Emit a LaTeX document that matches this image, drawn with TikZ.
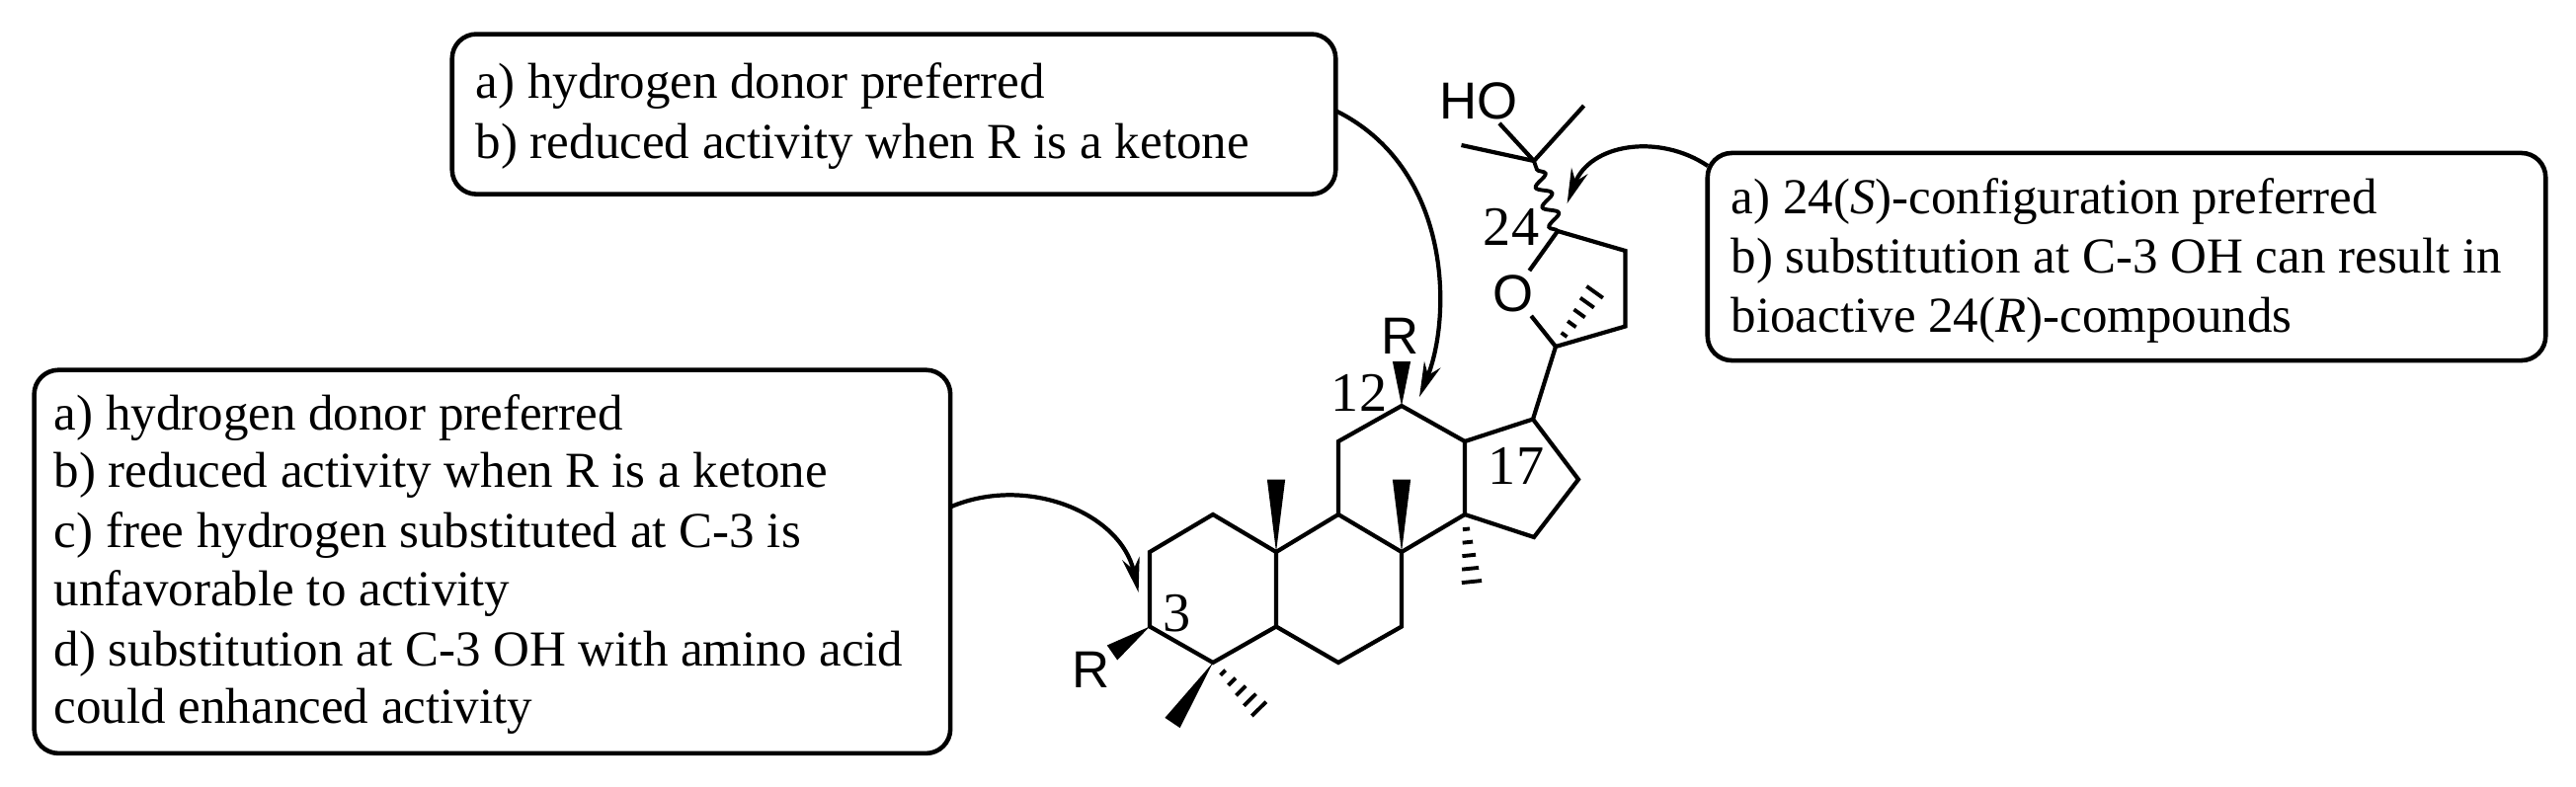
\documentclass[tikz,border=0pt]{standalone}
\usepackage{fontspec}
\setmainfont{Liberation Serif}
\newfontfamily\atomfont{Liberation Sans}
\usetikzlibrary{calc,arrows.meta,decorations.pathmorphing}
\begin{document}
\begin{tikzpicture}[x=0.01cm,y=-0.01cm,
  bond/.style={line width=1.2pt,line join=miter},
  boxst/.style={draw,line width=1.3pt,rounded corners=7pt,inner sep=0pt},
  txt/.style={anchor=base west,inner sep=0pt,font=\fontsize{14.5pt}{17pt}\selectfont},
  num/.style={inner sep=0pt,font=\fontsize{16pt}{17pt}\selectfont},
  atom/.style={inner sep=1pt,font=\atomfont\fontsize{15pt}{17pt}\selectfont},
  conn/.style={line width=1.2pt,-{Stealth[length=10pt,width=5pt]}}]
\useasboundingbox (0,0) rectangle (2608,797);
\newcommand\wedgebond[2]{\fill (#1) -- ($(#2)!2.6pt!90:(#1)$) -- ($(#2)!2.6pt!-90:(#1)$) -- cycle;}
\newcommand\hashbond[2]{\foreach \t in {0.2,0.38,0.56,0.74,0.92}{%
  \path (#1) -- (#2) coordinate[pos=\t] (hh);
  \pgfmathsetmacro\hl{0.5+2.6*\t}
  \draw[line width=1.1pt] ($(hh)!\hl pt!90:(#2)$) -- ($(hh)!\hl pt!-90:(#2)$);}}
% boxes
\node[boxst,minimum width=8.94cm,minimum height=1.62cm] (tbox) at (905,115.6) {};
\node[boxst,minimum width=9.27cm,minimum height=3.88cm] (lbox) at (498.4,568.8) {};
\node[boxst,minimum width=8.48cm,minimum height=2.10cm] (rbox) at (2153,260) {};
% texts
\node[txt] (t1) at (481,99) {a) hydrogen donor preferred};
\node[txt] (t2) at (481,160) {b) reduced activity when R is a ketone};
\node[txt] (l1) at (54,435) {a) hydrogen donor preferred};
\node[txt] (l2) at (54,493) {b) reduced activity when R is a ketone};
\node[txt] (l3) at (54,554) {c) free hydrogen substituted at C-3 is};
\node[txt] (l4) at (54,613) {unfavorable to activity};
\node[txt] (l5) at (54,674) {d) substitution at C-3 OH with amino acid};
\node[txt] (l6) at (54,732) {could enhanced activity};
\node[txt] (r1) at (1752,216.7) {a) 24(\textit{S})-configuration preferred};
\node[txt] (r2) at (1752,276.7) {b) substitution at C-3 OH can result in};
\node[txt] (r3) at (1752,336.7) {bioactive 24(\textit{R})-compounds};
% atoms
\coordinate (C1) at (1228,521); \coordinate (C2) at (1164,559);
\coordinate (C3) at (1164,634.5); \coordinate (C4) at (1228,671);
\coordinate (C5) at (1292,634.5); \coordinate (C10) at (1292,559);
\coordinate (C9) at (1355,521); \coordinate (C8) at (1419,559);
\coordinate (C7) at (1419,634.5); \coordinate (C6) at (1355,671);
\coordinate (C11) at (1355,447); \coordinate (C12) at (1419,411);
\coordinate (C13) at (1483,447); \coordinate (C14) at (1483,521);
\coordinate (C17) at (1552,424.5); \coordinate (C16) at (1598,485.5);
\coordinate (C15) at (1553,544); \coordinate (C20) at (1575,351);
\coordinate (C22) at (1645.5,330.5); \coordinate (C23) at (1645.5,254);
\coordinate (C24) at (1577,234); \coordinate (C25) at (1553,163);
\coordinate (M20) at (1618,291); \coordinate (M25a) at (1603.6,107);
\coordinate (M25b) at (1479.5,147);
\coordinate (M10) at (1292,485.5); \coordinate (M8) at (1419,485.5);
\coordinate (M14) at (1490.6,595); \coordinate (R12e) at (1419,366);
\coordinate (R3e) at (1126,661); \coordinate (M4a) at (1187,732);
\coordinate (M4b) at (1278.6,722);
\node[atom] (O) at (1532,297) {O};
\node[atom] (HO) at (1497,102) {HO};
\node[atom] (R12) at (1418,340) {R};
\node[atom] (R3) at (1105,678) {R};
\node[num] (n3) at (1192,621) {3};
\node[num] (n12) at (1376,398) {12};
\node[num] (n17) at (1535,472) {17};
\node[num] (n24) at (1530,230) {24};
% bonds
\draw[bond] (C3) -- (C2) -- (C1) -- (C10) -- (C5) -- (C4) -- cycle;
\draw[bond] (C10) -- (C9) -- (C8) -- (C7) -- (C6) -- (C5);
\draw[bond] (C9) -- (C11) -- (C12) -- (C13) -- (C14) -- (C8);
\draw[bond] (C13) -- (C17) -- (C16) -- (C15) -- (C14);
\draw[bond] (C17) -- (C20) -- (C22) -- (C23) -- (C24);
\draw[bond] (C24) -- (O) -- (C20);
\draw[bond] (C25) -- (M25a); \draw[bond] (C25) -- (M25b); \draw[bond] (C25) -- (HO);
\draw[line width=1.1pt,decorate,decoration={snake,amplitude=2pt,segment length=6pt}] (C24) -- (C25);
\wedgebond{C10}{M10}
\wedgebond{C8}{M8}
\wedgebond{C12}{R12e}
\wedgebond{C3}{R3e}
\wedgebond{C4}{M4a}
\hashbond{C14}{M14}
\hashbond{C4}{M4b}
\hashbond{C20}{M20}
% connectors
\coordinate (ta) at (1352,112);
\coordinate (tz) at (1437,402);
\coordinate (la) at (962,513.5);
\coordinate (lz) at (1152.6,600);
\coordinate (ra) at (1729,168);
\coordinate (rz) at (1586.6,206);
\draw[conn] (ta) .. controls (1470,170) and (1470,320) .. (tz);
\draw[conn] (la) .. controls (1040,480) and (1135,520) .. (lz);
\draw[conn] (ra) .. controls (1680,135) and (1610,145) .. (rz);
\end{tikzpicture}
\end{document}
